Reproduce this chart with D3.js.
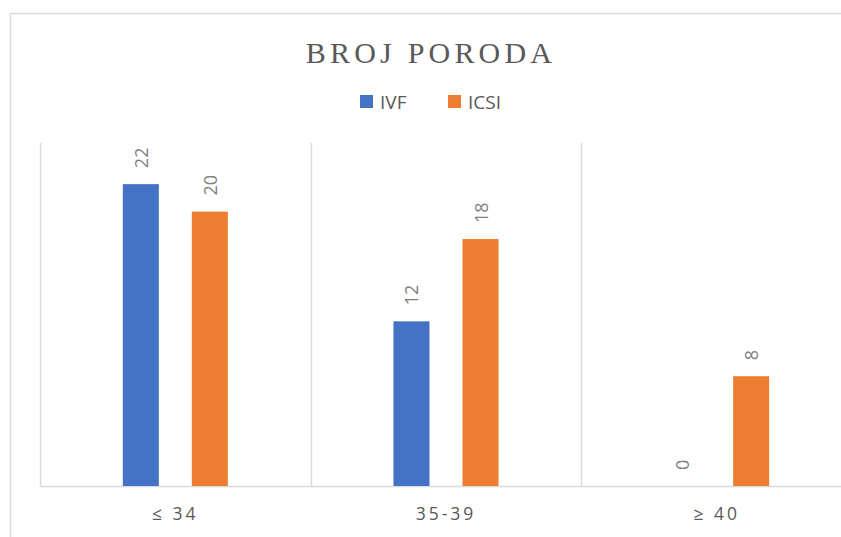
<!DOCTYPE html>
<meta charset="utf-8">
<html>
<head>
    <title>broj poroda</title>
    <script src="https://cdn.jsdelivr.net/npm/d3@7"></script>
    <style>
        body { margin: 0; background: #fff; }
    </style>
</head>
<body>
    <div id="chart"></div>
    <script>
        var categories = ["≤ 34", "35-39", "≥ 40"];
        var seriesNames = ["IVF", "ICSI"];
        var ivfValues = [22, 12, 0];
        var icsiValues = [20, 18, 8];
        var colors = ["#4472c4", "#ed7d31"];

        var W = 841, H = 537;
        var plot = {left: 40, right: 852, top: 143, bottom: 486};

        var svg = d3.select("#chart").append("svg")
            .attr("width", W)
            .attr("height", H);

        // chart frame
        svg.append("rect")
            .attr("x", 10.5).attr("y", 13.5)
            .attr("width", 841).attr("height", 540)
            .attr("fill", "none")
            .attr("stroke", "#d9d9d9")
            .attr("stroke-width", 1.5);

        var x0 = d3.scaleBand()
            .domain(categories)
            .range([plot.left, plot.right])
            .padding(0);
        var x1 = d3.scaleBand()
            .domain(seriesNames)
            .range([0, x0.bandwidth()])
            .paddingInner(0.478)
            .paddingOuter(1.2);
        var y = d3.scaleLinear()
            .domain([0, 25])
            .range([plot.bottom, plot.top]);

        // vertical separators
        svg.append("g")
            .selectAll("line")
            .data(categories).enter()
            .append("line")
            .attr("x1", function(d){ return Math.round(x0(d)) + 0.5; })
            .attr("x2", function(d){ return Math.round(x0(d)) + 0.5; })
            .attr("y1", plot.top)
            .attr("y2", plot.bottom)
            .attr("stroke", "#d9d9d9")
            .attr("stroke-width", 1.5);

        // x axis
        var xAxis = d3.axisBottom(x0).tickSize(0).tickPadding(22);
        var gx = svg.append("g")
            .attr("transform", "translate(0," + plot.bottom + ")")
            .call(xAxis);
        gx.select(".domain").attr("stroke", "#d9d9d9").attr("stroke-width", 1.5);
        gx.selectAll("text")
            .attr("font-family", "'Open Sans', sans-serif")
            .attr("font-size", "17.5px")
            .attr("letter-spacing", "3px")
            .attr("fill", "#595959");

        var rows = [];
        categories.forEach(function(c, i){
            rows.push({cat: c, series: "IVF", value: ivfValues[i]});
            rows.push({cat: c, series: "ICSI", value: icsiValues[i]});
        });

        // bars
        svg.append("g")
            .selectAll("rect")
            .data(rows).enter()
            .append("rect")
            .attr("x", function(d){ return x0(d.cat) + x1(d.series); })
            .attr("y", function(d){ return y(d.value); })
            .attr("width", x1.bandwidth())
            .attr("height", function(d){ return plot.bottom - y(d.value); })
            .attr("fill", function(d){ return colors[seriesNames.indexOf(d.series)]; });

        // rotated value labels
        svg.append("g")
            .selectAll("text")
            .data(rows).enter()
            .append("text")
            .attr("transform", function(d){
                var cx = x0(d.cat) + x1(d.series) + x1.bandwidth() / 2;
                return "translate(" + (cx + 7) + "," + (y(d.value) - 16) + ") rotate(-90)";
            })
            .attr("font-family", "'Open Sans', sans-serif")
            .attr("font-size", "18px")
            .attr("fill", "#7f7f7f")
            .text(function(d){ return d.value; });

        // title
        svg.append("text")
            .attr("x", 431)
            .attr("y", 63)
            .attr("text-anchor", "middle")
            .attr("font-family", "'Liberation Serif', serif")
            .attr("font-size", "30px")
            .attr("letter-spacing", "4.2px")
            .attr("fill", "#595959")
            .text("BROJ PORODA");

        // legend
        var legendX = [360, 448];
        var legend = svg.append("g")
            .selectAll("g")
            .data(seriesNames).enter()
            .append("g")
            .attr("transform", function(d, i){ return "translate(" + legendX[i] + ",95)"; });
        legend.append("rect")
            .attr("width", 13).attr("height", 13)
            .attr("fill", function(d, i){ return colors[i]; });
        legend.append("text")
            .attr("x", 20).attr("y", 14)
            .attr("font-family", "'Open Sans', sans-serif")
            .attr("font-size", "19px")
            .attr("fill", "#595959")
            .text(function(d){ return d; });
    </script>
</body>
</html>
